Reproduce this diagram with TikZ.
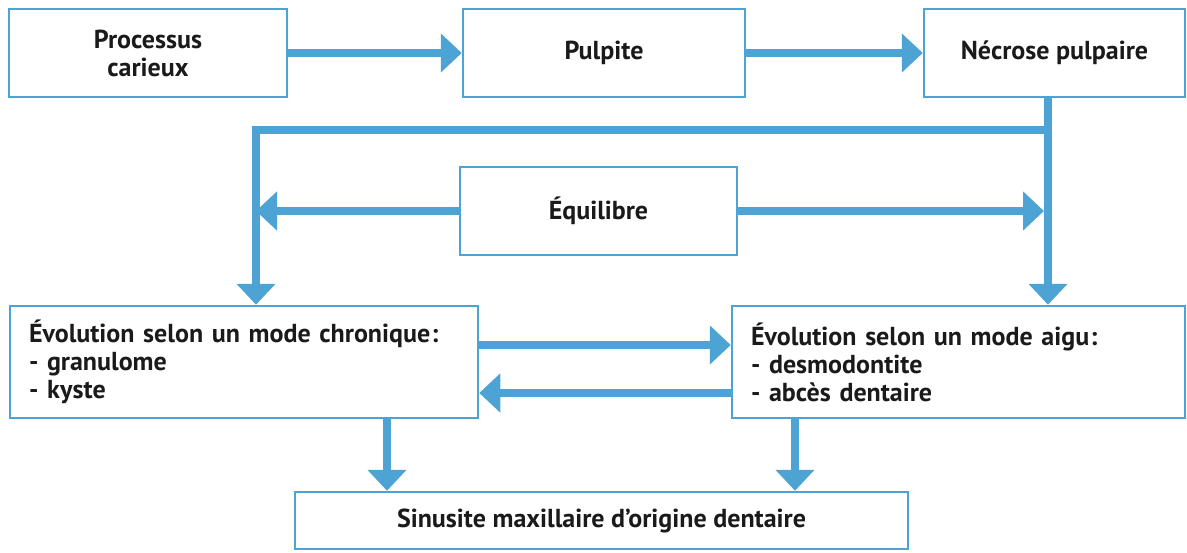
\documentclass[tikz,border=0pt]{standalone}
\usepackage{fontspec}
\setmainfont{PT Sans}
\usetikzlibrary{arrows.meta}
\definecolor{blu}{RGB}{76,163,212}
\definecolor{ink}{RGB}{26,26,26}
\tikzset{
  box/.style={draw=blu, line width=2.5pt, inner sep=0pt, fill=white, text=ink,
    font=\fontsize{26}{28}\selectfont\bfseries},
  conn/.style={draw=blu, line width=8pt},
  arr/.style={conn, -{Triangle[width=38pt,length=21pt]}},
}
\begin{document}
\begin{tikzpicture}[x=1pt,y=-1pt]
\useasboundingbox (0,0) rectangle (1187,552);
\node[box, minimum width=278pt, minimum height=88pt, align=center] (proc) at (148,53) {Processus\\carieux};
\node[box, minimum width=282pt, minimum height=88pt] (pulp) at (604,53) {Pulpite};
\node[box, minimum width=261pt, minimum height=88pt] (necr) at (1054.5,53) {Nécrose pulpaire};
\node[box, minimum width=277pt, minimum height=88pt] (equi) at (598.5,211) {Équilibre};
\node[box, minimum width=468pt, minimum height=112pt, align=left, text width=430pt] (chron) at (244,362)
  {Évolution selon un mode chronique\kern1pt:\\- granulome\\- kyste};
\node[box, minimum width=453pt, minimum height=112pt, align=left, text width=415pt] (aigu) at (958.5,362)
  {Évolution selon un mode aigu\kern1pt:\\- desmodontite\\- abcès dentaire};
\node[box, minimum width=613pt, minimum height=57pt] (sinus) at (601.5,520.5) {Sinusite maxillaire d’origine dentaire};
\coordinate (r) at (1048,130);
\coordinate (l) at (256,130);
\coordinate (re) at (1044,211);
\draw[arr] (proc.east) -- (pulp.west);
\draw[arr] (pulp.east) -- (necr.west);
\draw[arr] (necr.south -| r) -- (r |- aigu.north);
\draw[arr] ([xshift=4pt]r) -- (l) -- (l |- chron.north);
\draw[arr] (equi.west) -- (l |- equi.west);
\draw[arr] (equi.east) -- (re);
\draw[arr] (chron.east |- 0,345) -- (aigu.west |- 0,345);
\draw[arr] (aigu.west |- 0,393) -- (chron.east |- 0,393);
\draw[arr] (387,0 |- chron.south) -- (387,0 |- sinus.north);
\draw[arr] (795,0 |- aigu.south) -- (795,0 |- sinus.north);
\end{tikzpicture}
\end{document}
